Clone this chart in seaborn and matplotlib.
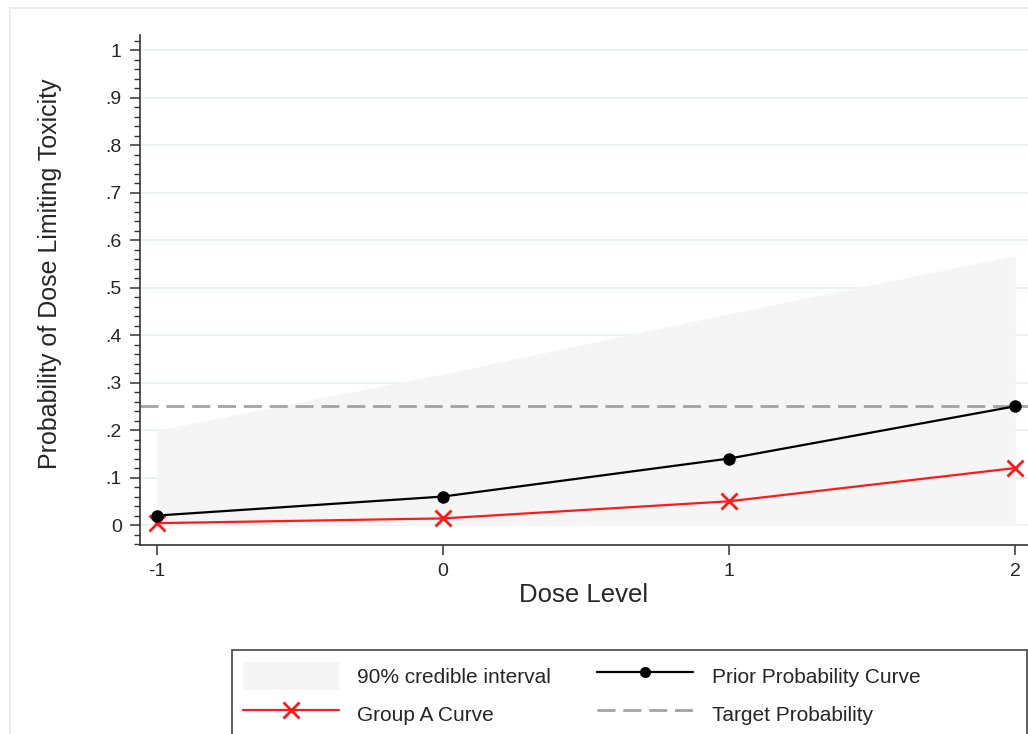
import seaborn as sns
import pandas as pd
import matplotlib.pyplot as plt
from matplotlib.lines import Line2D
from matplotlib.patches import Patch, Rectangle
from matplotlib.ticker import MultipleLocator, FuncFormatter

# values
dose = [-1, 0, 1, 2]
prior = [0.02, 0.06, 0.14, 0.25]
group_a = [0.004, 0.014, 0.05, 0.12]
ci_low = [0.0, 0.0, 0.0, 0.0]
ci_high = [0.20, 0.318, 0.445, 0.567]
target = 0.25

sns.set_theme(style="white")
plt.rcParams['font.family'] = ['Liberation Sans', 'DejaVu Sans']

df = pd.DataFrame({"dose": dose, "prior": prior, "group_a": group_a})

fig = plt.figure(figsize=(10.28, 7.34), dpi=100)
ax = fig.add_axes([0.136, 0.2575, 0.864, 0.695])

# light outer frame like the original graph region
fig.patches.append(Rectangle((10 / 1028, -0.1), 1.2, 1 - 8 / 734 + 0.1,
                             transform=fig.transFigure, fill=False,
                             edgecolor="#e3ecef", linewidth=1.2))
# legend box (wider than its content, as in the original)
fig.patches.append(Rectangle((232 / 1028, -0.05), (1027 - 232) / 1028, 0.05 + 84 / 734,
                             transform=fig.transFigure, fill=False,
                             edgecolor="#444444", linewidth=1.2))

dash = (0, (6.5, 2.8))
ax.fill_between(dose, ci_low, ci_high, color="#f5f5f5", linewidth=0, zorder=1)
ax.axhline(target, color="#a3a3a3", linestyle=dash, linewidth=2, zorder=2)
sns.lineplot(data=df, x="dose", y="prior", ax=ax, color="black", marker="o",
             markersize=9, markeredgewidth=0, linewidth=1.6, zorder=4)
sns.lineplot(data=df, x="dose", y="group_a", ax=ax, color="#ff1a1a", marker="x",
             markersize=11, markeredgewidth=2, markeredgecolor="#ff1a1a",
             linewidth=1.6, zorder=3)

ax.set_xlim(-1.06, 2.045)
ax.set_ylim(-0.042, 1.032)
ax.set_xticks(dose)
ax.set_xticklabels(["-1", "0", "1", "2"])
ax.yaxis.set_major_locator(MultipleLocator(0.1))
ax.yaxis.set_minor_locator(MultipleLocator(0.02))
ax.yaxis.set_major_formatter(FuncFormatter(
    lambda v, p: "0" if abs(v) < 1e-9 else ("1" if abs(v - 1) < 1e-9 else ("%.1f" % v).lstrip("0"))))
ax.grid(axis="y", which="major", color="#e6f0f2", linewidth=1.2, zorder=0)
ax.set_axisbelow(True)

for s in ["top", "right"]:
    ax.spines[s].set_visible(False)
for s in ["left", "bottom"]:
    ax.spines[s].set_color("#333333")
    ax.spines[s].set_linewidth(1.2)

ax.tick_params(axis="both", which="major", direction="out", length=7, width=1.1,
               color="#333333", labelsize=14, left=True, bottom=True, pad=6)
ax.tick_params(axis="y", which="minor", direction="out", length=4, width=1,
               color="#333333", left=True)
ax.set_xlabel("Dose Level", fontsize=18.5, labelpad=2)
ax.set_ylabel("Probability of Dose Limiting Toxicity", fontsize=18)
ax.yaxis.set_label_coords(-0.088, 0.531)

handles = [
    Patch(facecolor="#f5f5f5", edgecolor="none"),
    Line2D([], [], color="#ff1a1a", marker="x", markersize=11, markeredgewidth=2, linewidth=1.6),
    Line2D([], [], color="black", marker="o", markersize=8, markeredgewidth=0, linewidth=1.6),
    Line2D([], [], color="#a3a3a3", linestyle=dash, linewidth=2),
]
labels = ["90% credible interval", "Group A Curve", "Prior Probability Curve", "Target Probability"]
leg = fig.legend(handles, labels, ncol=2, loc="upper left",
                 bbox_to_anchor=(223 / 1028, 1 - 642 / 734), fontsize=15,
                 frameon=False, handlelength=4.6, handleheight=1.7, columnspacing=2.2,
                 handletextpad=0.9, borderpad=0.45, labelspacing=0.48)

fig.savefig("out.png", dpi=100, facecolor="white")
